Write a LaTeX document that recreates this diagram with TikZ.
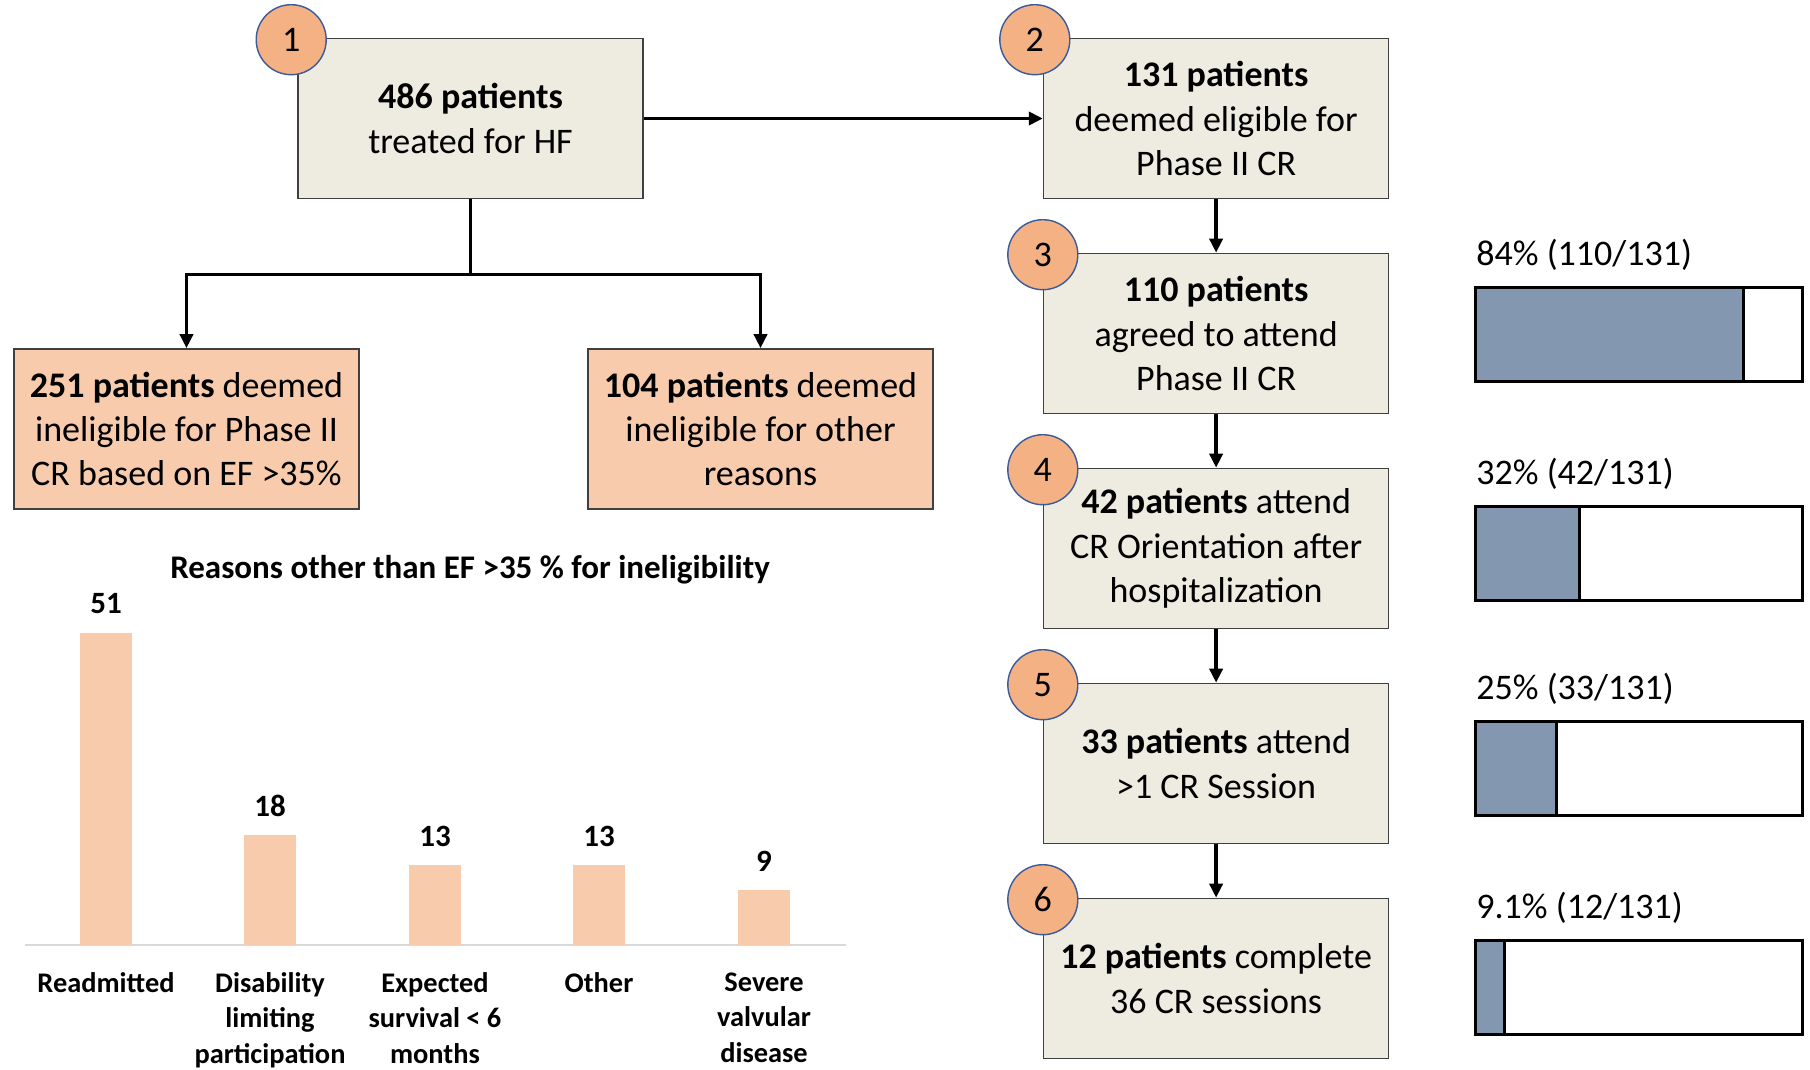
\documentclass[tikz,border=0pt]{standalone}
\usepackage{fontspec}
\setmainfont{Carlito}
\usetikzlibrary{arrows.meta, positioning}
\definecolor{stagefill}{HTML}{EEECE1}
\definecolor{exclfill}{HTML}{F8CBAD}
\definecolor{numfill}{HTML}{F4B183}
\definecolor{numline}{HTML}{3A5A9A}
\definecolor{boxline}{HTML}{404040}
\definecolor{barfill}{HTML}{F8CBAD}
\definecolor{progfill}{HTML}{8497B0}
\definecolor{axisline}{HTML}{D9D9D9}

\begin{document}
\begin{tikzpicture}[
  x=0.5pt, y=-0.5pt, node distance = 26.7pt and 199.5pt,
  stage/.style = {rectangle, draw=boxline, line width=0.8pt, fill=stagefill,
                  minimum width=172.5pt, minimum height=80pt, align=center,
                  inner sep=2pt, font=\fontsize{18}{22.2}\selectfont},
  excl/.style  = {stage, fill=exclfill},
  numc/.style  = {circle, draw=numline, line width=0.7pt, fill=numfill,
                  minimum size=35pt, inner sep=0pt, font=\fontsize{18}{18}\selectfont},
  link/.style  = {-{Triangle[length=7pt,width=6.5pt]}, line width=1.8pt},
  chartlab/.style = {align=center, inner sep=0pt,
                     font=\fontsize{14.2}{17.75}\selectfont\bfseries},
  pctlab/.style = {anchor=west, inner sep=1pt, font=\fontsize{18}{21.5}\selectfont},
  progline/.style = {line width=1.5pt}
]
  \fill[white] (0,0) rectangle (1810,1070);
  \useasboundingbox (0,0) rectangle (1810,1070);

  % flow of patients
  \node[stage] (b1) at (470.5,118.5) {\textbf{486 patients}\\treated for HF};
  \node[stage, right=of b1] (b2) {\textbf{131 patients}\\deemed eligible for\\Phase II CR};
  \node[stage, below=of b2] (b3) {\textbf{110 patients}\\agreed to attend\\Phase II CR};
  \node[stage, below=of b3] (b4) {\textbf{42 patients} attend\\CR Orientation after\\hospitalization};
  \node[stage, below=of b4] (b5) {\textbf{33 patients} attend\\>1 CR Session};
  \node[stage, below=of b5] (b6) {\textbf{12 patients} complete\\36 CR sessions};

  \node[excl] (ex1) at (186.5,429)
    {\textbf{251 patients} deemed\\ineligible for Phase II\\CR based on EF >35\%};
  \node[excl] (ex2) at (760.5,429)
    {\textbf{104 patients} deemed\\ineligible for other\\reasons};

  \foreach \b/\n/\dx in {b1/1/-3, b2/2/-4, b3/3/0, b4/4/0, b5/5/0, b6/6/0}
    \node[numc, xshift=\dx pt, yshift=-1pt] (n\n) at (\b.north west) {\n};

  \coordinate[below=37.5pt of b1.south] (fork);
  \draw[link] (b1) -- (b2);
  \draw[line width=1.8pt] (b1) -- (fork);
  \draw[link] (fork) -| (ex1);
  \draw[link] (fork) -| (ex2);
  \draw[link] (b2) -- (b3);
  \draw[link] (b3) -- (b4);
  \draw[link] (b4) -- (b5);
  \draw[link] (b5) -- (b6);

  % bar chart
  \node[chartlab, font=\fontsize{16.5}{20}\selectfont\bfseries] (title) at (470,570)
    {Reasons other than EF >35 \% for ineligibility};
  \draw[axisline, line width=1pt] (25,945) -- (846,945);
  \foreach \x/\v [count=\i] in {106/51, 270/18, 435/13, 599/13, 764/9} {
    \fill[barfill] (\x-26,945) rectangle (\x+26,945-6.12*\v);
    \node[chartlab, font=\fontsize{15.5}{18}\selectfont\bfseries] (v\i) at (\x,945-6.12*\v-29) {\v};
  }
  \foreach \x/\t [count=\i] in {106/Readmitted,
      270/{Disability\\limiting\\participation},
      435/{Expected\\survival < 6\\months},
      599/Other,
      764/{Severe\\valvular\\disease}}
    \node[chartlab, anchor=north] (c\i) at (\x,972) {\t};

  % share of eligible patients
  \foreach \y/\w/\t [count=\i] in {287/268/{84\% (110/131)}, 506/104/{32\% (42/131)},
                                   721/81/{25\% (33/131)}, 940/29/{9.1\% (12/131)}} {
    \node[pctlab] (p\i) at (1474,\y-32.5) {\t};
    \fill[progfill] (1475,\y) rectangle (1475+\w,\y+94);
    \draw[progline] (1475+\w,\y) -- (1475+\w,\y+94);
    \draw[progline] (1475,\y) rectangle (1802,\y+94);
  }
\end{tikzpicture}
\end{document}
